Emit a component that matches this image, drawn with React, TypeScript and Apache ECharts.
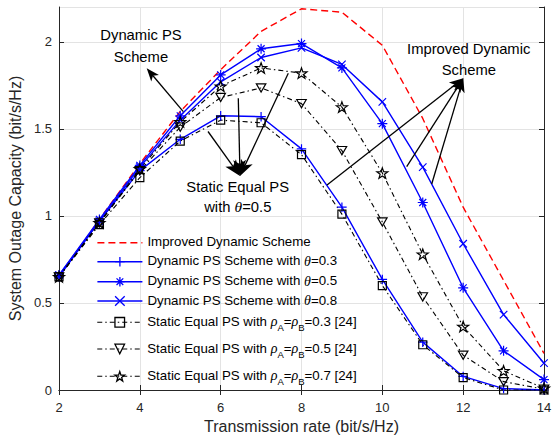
import React, { useEffect, useRef } from 'react';
import * as echarts from 'echarts';

const rates = [2, 3, 4, 5, 6, 7, 8, 9, 10, 11, 12, 13, 14];
const improvedDynamic = [0.65, 0.98, 1.3, 1.6, 1.84, 2.06, 2.19, 2.17, 1.98, 1.56, 1.05, 0.63, 0.21];
const dynamicTheta03 = [0.65, 0.97, 1.26, 1.44, 1.575, 1.57, 1.385, 1.05, 0.635, 0.275, 0.078, 0.008, 0.0];
const dynamicTheta05 = [0.66, 0.98, 1.29, 1.575, 1.81, 1.96, 1.99, 1.85, 1.53, 1.077, 0.587, 0.225, 0.06];
const dynamicTheta08 = [0.66, 0.97, 1.28, 1.55, 1.77, 1.91, 1.965, 1.87, 1.655, 1.28, 0.84, 0.433, 0.154];
const staticRho03 = [0.65, 0.95, 1.22, 1.43, 1.55, 1.535, 1.352, 1.01, 0.6, 0.26, 0.071, 0.0, 0.0];
const staticRho05 = [0.65, 0.96, 1.26, 1.51, 1.68, 1.735, 1.645, 1.375, 0.965, 0.535, 0.2, 0.048, 0.005];
const staticRho07 = [0.65, 0.96, 1.27, 1.54, 1.745, 1.85, 1.82, 1.625, 1.246, 0.78, 0.365, 0.11, 0.01];

const seriesNames = [
  'Improved Dynamic Scheme',
  'Dynamic PS Scheme with θ=0.3',
  'Dynamic PS Scheme with θ=0.5',
  'Dynamic PS Scheme with θ=0.8',
  'Static Equal PS with ρA=ρB=0.3 [24]',
  'Static Equal PS with ρA=ρB=0.5 [24]',
  'Static Equal PS with ρA=ρB=0.7 [24]',
];
const legendLabels = [
  '{n|Improved Dynamic Scheme}',
  '{n|Dynamic PS Scheme with }{t|θ}{n|=0.3}',
  '{n|Dynamic PS Scheme with }{t|θ}{n|=0.5}',
  '{n|Dynamic PS Scheme with }{t|θ}{n|=0.8}',
  '{n|Static Equal PS with }{t|ρ}{s|A}{n|=}{t|ρ}{s|B}{n|=0.3 [24]}',
  '{n|Static Equal PS with }{t|ρ}{s|A}{n|=}{t|ρ}{s|B}{n|=0.5 [24]}',
  '{n|Static Equal PS with }{t|ρ}{s|A}{n|=}{t|ρ}{s|B}{n|=0.7 [24]}',
];
const xAxisName = 'Transmission rate (bit/s/Hz)';
const yAxisName = 'System Outage Capacity (bit/s/Hz)';

const FONT = '"Liberation Sans", Arial, Helvetica, sans-serif';
const SERIF = '"Liberation Serif", "DejaVu Serif", serif';
const AXIS = '#262626';
const GRIDC = '#e3e3e3';
const BLUE = '#0000ff';
const RED = '#ff0000';
const BLACK = '#000000';

const PLUS = 'path://M5,0L5,10M0,5L10,5';
const CROSS = 'path://M0,0L10,10M10,0L0,10';
const ASTER = 'path://M5,0L5,10M0,5L10,5M1.5,1.5L8.5,8.5M8.5,1.5L1.5,8.5';
const SQUARE = 'path://M0,0L10,0L10,10L0,10Z';
const TRI = 'path://M0,0L10,0L5,8.66Z';
const STAR = 'path://M5,0L6.18,3.38L9.76,3.45L6.9,5.62L7.94,9.05L5,7L2.06,9.05L3.1,5.62L0.24,3.45L3.82,3.38Z';

const DASH = [7, 4];
const DASHDOT = [5, 3, 1.5, 3];

function arrow(x1: number, y1: number, x2: number, y2: number, L = 13, W = 5) {
  const dx = x2 - x1, dy = y2 - y1;
  const len = Math.hypot(dx, dy);
  const ux = dx / len, uy = dy / len;
  const bx = x2 - ux * L, by = y2 - uy * L;
  const nx = x2 - ux * L * 0.75, ny = y2 - uy * L * 0.75;
  return [
    { type: 'line', shape: { x1, y1, x2: nx, y2: ny }, style: { stroke: BLACK, lineWidth: 1.3 }, z: 100 },
    {
      type: 'polygon',
      shape: { points: [[x2, y2], [bx - uy * W, by + ux * W], [nx, ny], [bx + uy * W, by - ux * W]] },
      style: { fill: BLACK },
      z: 100,
    },
  ];
}

const legendTops = [235.2, 254.2, 274.2, 293.5, 314.8, 341.5, 368.8];

export default function App() {
  const ref = useRef<HTMLDivElement>(null);
  useEffect(() => {
    if (!ref.current) return;
    const chart = echarts.init(ref.current, undefined, { renderer: 'svg' });
    const mk = (name: string, vals: number[], color: string, type: any, symbol: string, size: number, width: number) => ({
      name,
      type: 'line',
      data: rates.map((r, i) => [r, vals[i]]),
      symbol,
      symbolSize: size,
      symbolKeepAspect: true,
      showSymbol: symbol !== 'none',
      lineStyle: { color, width, type },
      itemStyle: { color: 'rgba(0,0,0,0)', borderColor: color, borderWidth: 1.2 },
      emphasis: { disabled: true },
      silent: true,
    });
    const series = [
      mk(seriesNames[0], improvedDynamic, RED, DASH, 'none', 0, 1.4),
      mk(seriesNames[1], dynamicTheta03, BLUE, 'solid', PLUS, 9.5, 1.4),
      mk(seriesNames[2], dynamicTheta05, BLUE, 'solid', ASTER, 10, 1.4),
      mk(seriesNames[3], dynamicTheta08, BLUE, 'solid', CROSS, 7.5, 1.4),
      mk(seriesNames[4], staticRho03, BLACK, DASHDOT, SQUARE, 8, 1.1),
      mk(seriesNames[5], staticRho05, BLACK, DASHDOT, TRI, 9.5, 1.1),
      mk(seriesNames[6], staticRho07, BLACK, DASHDOT, STAR, 11, 1.1),
    ];
    const rich = {
      n: { fontFamily: FONT, fontSize: 13.3, color: BLACK, lineHeight: 15, verticalAlign: 'top' },
      t: { fontFamily: SERIF, fontStyle: 'italic', fontSize: 14, color: BLACK, lineHeight: 15, verticalAlign: 'top' },
      s: { fontFamily: FONT, fontSize: 9.5, color: BLACK, lineHeight: 9, padding: [8, 0, 0, 0], verticalAlign: 'top' },
    };
    const legendWidths = [1.4, 1.4, 1.4, 1.4, 1.1, 1.1, 1.1];
    const legends = seriesNames.map((n, i) => ({
      data: [n],
      left: 96.7,
      top: legendTops[i],
      orient: 'vertical',
      padding: 0,
      itemWidth: 45,
      itemHeight: 12,
      selectedMode: false,
      formatter: legendLabels[i],
      textStyle: { fontFamily: FONT, fontSize: 13.3, color: BLACK, rich },
      itemStyle:
        i === 0
          ? { color: 'rgba(0,0,0,0)', borderColor: 'rgba(0,0,0,0)', borderWidth: 0 }
          : { borderWidth: 1.3 },
      lineStyle: { width: legendWidths[i] },
    }));
    const annText = (text: string, x: number, y: number) => ({
      type: 'text',
      x,
      y,
      z: 100,
      style: {
        text,
        align: 'center',
        verticalAlign: 'middle',
        fill: BLACK,
        fontFamily: FONT,
        fontSize: 14.8,
        rich: {
          a: { fontFamily: FONT, fontSize: 14.8, color: BLACK },
          t: { fontFamily: SERIF, fontStyle: 'italic', fontSize: 15.5, color: BLACK },
        },
      },
    });
    const graphic = [
      annText('Dynamic PS', 141, 35),
      annText('Scheme', 141, 57),
      annText('Static Equal PS', 237.7, 186.7),
      annText('{a|with }{t|θ}{a|=0.5}', 237.8, 206.7),
      annText('Improved Dynamic', 468.7, 48.8),
      annText('Scheme', 468.8, 70),
      ...arrow(183.3, 111.7, 146.7, 68.3),
      ...arrow(208, 131.5, 240, 176, 16, 6.5),
      ...arrow(238.3, 98.3, 240, 176, 16, 6.5),
      ...arrow(288.3, 73.3, 240, 176, 16, 6.5),
      ...arrow(327, 185, 463.3, 78.3, 14, 5.5),
      ...arrow(406.7, 166.7, 463.3, 78.3, 14, 5.5),
      ...arrow(431.7, 184, 463.3, 78.3, 14, 5.5),
    ];
    const common = {
      axisLine: { show: true, lineStyle: { color: AXIS, width: 1 } },
      axisTick: { show: true, inside: true, length: 5, lineStyle: { color: AXIS, width: 1 } },
    };
    chart.setOption({
      animation: false,
      backgroundColor: '#ffffff',
      grid: { left: 59, right: 9, top: 7, bottom: 53, containLabel: false, outerBoundsMode: 'none' },
      xAxis: [
        {
          type: 'value', min: 2, max: 14, interval: 2, position: 'bottom',
          ...common,
          axisLabel: { fontFamily: FONT, fontSize: 13, color: AXIS, margin: 11 },
          splitLine: { show: true, lineStyle: { color: GRIDC, width: 1 } },
          name: xAxisName, nameLocation: 'middle', nameGap: 24,
          nameTextStyle: { fontFamily: FONT, fontSize: 16, color: AXIS },
        },
        {
          type: 'value', min: 2, max: 14, interval: 2, position: 'top',
          ...common,
          axisLabel: { show: false },
          splitLine: { show: false },
        },
      ],
      yAxis: [
        {
          type: 'value', min: 0, max: 2.2, interval: 0.5, position: 'left',
          ...common,
          axisLabel: {
            fontFamily: FONT, fontSize: 13, color: AXIS, margin: 7, showMaxLabel: false,
            formatter: (v: number) => (Math.abs(v / 0.5 - Math.round(v / 0.5)) < 1e-6 ? String(v) : ''),
          },
          splitLine: { show: true, lineStyle: { color: GRIDC, width: 1 } },
          name: yAxisName, nameLocation: 'middle', nameGap: 33,
          nameTextStyle: { fontFamily: FONT, fontSize: 16, color: AXIS },
        },
        {
          type: 'value', min: 0, max: 2.2, interval: 0.5, position: 'right',
          ...common,
          axisLabel: { show: false },
          splitLine: { show: false },
        },
      ],
      legend: legends,
      series,
      graphic,
    });
    return () => chart.dispose();
  }, []);
  return <div ref={ref} style={{ position: 'fixed', left: 0, top: 0, width: 553, height: 443, background: '#fff' }} />;
}
